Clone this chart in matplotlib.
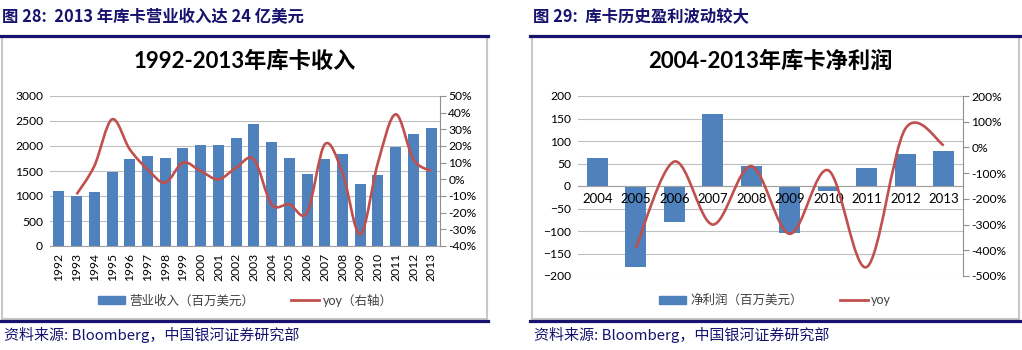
import numpy as np
import matplotlib
matplotlib.use('Agg')
import matplotlib.pyplot as plt
from matplotlib.path import Path
from matplotlib.patches import PathPatch, Rectangle, Patch
from matplotlib.lines import Line2D

plt.rcParams['font.family'] = ['Lato', 'Noto Sans CJK SC', 'DejaVu Sans']

# dati
anni1 = [str(a) for a in range(1992, 2014)]
ricavi = [1100, 1000, 1080, 1490, 1750, 1800, 1770, 1960, 2030, 2030, 2170,
          2440, 2090, 1770, 1450, 1750, 1850, 1240, 1430, 1990, 2230, 2350]
yoy1 = [None, -9, 8, 36, 18, 6, -2, 10, 5, 0, 7,
        12, -15, -15, -20, 21, 4, -33, 10, 39, 12, 5]

anni2 = [str(a) for a in range(2004, 2014)]
utile = [62, -181, -79, 161, 44, -104, -11, 41, 71, 78]
yoy2 = [None, -392, -55, -300, -73, -336, -89, -465, 72, 8]

titolo1 = '图 28:  2013 年库卡营业收入达 24 亿美元'
titolo2 = '图 29:  库卡历史盈利波动较大'
fonte = '资料来源: Bloomberg，中国银河证券研究部'

blu = '#4f81bd'
rosso = '#c0504d'
navy = '#16126e'
griglia = '#bfbfbf'
W, H = 1022, 350


def curva(x, y):
    # spline tipo excel (catmull-rom -> bezier)
    p = np.column_stack([x, y]).astype(float)
    verts = [p[0]]
    codes = [Path.MOVETO]
    n = len(p)
    for i in range(n - 1):
        p0 = p[i - 1] if i > 0 else p[i]
        p3 = p[i + 2] if i + 2 < n else p[i + 1]
        c1 = p[i] + (p[i + 1] - p0) / 6
        c2 = p[i + 1] - (p3 - p[i]) / 6
        verts += [c1, c2, p[i + 1]]
        codes += [Path.CURVE4] * 3
    return Path(verts, codes)


fig = plt.figure(figsize=(W / 100, H / 100), dpi=100)

# cornici
for x0, x1 in [(2, 487), (532, 1019)]:
    fig.patches.append(Rectangle((x0 / W, 1 - 319 / H), (x1 - x0) / W, 282 / H,
                                 transform=fig.transFigure, fill=False,
                                 edgecolor='#c8c8c8', lw=1.5))
    for yy in [36, 321]:
        fig.add_artist(Line2D([(x0 - 2) / W, (x1 + 1) / W], [1 - yy / H] * 2,
                              transform=fig.transFigure, color=navy, lw=2.3))

fig.text(2 / W, 1 - 17 / H, titolo1, fontsize=11.8, fontweight='bold', color=navy,
         family=['Noto Sans CJK SC'], va='center')
fig.text(533 / W, 1 - 17 / H, titolo2, fontsize=11.8, fontweight='bold', color=navy,
         family=['Noto Sans CJK SC'], va='center')
fig.text(4 / W, 1 - 335 / H, fonte, fontsize=10.8, style='italic', color=navy,
         family=['Noto Sans CJK SC'], va='center')
fig.text(534 / W, 1 - 335 / H, fonte, fontsize=10.8, style='italic', color=navy,
         family=['Noto Sans CJK SC'], va='center')

# ---- grafico 1
ax = fig.add_axes([50 / W, 1 - 246 / H, 390 / W, 150 / H])
xs = np.arange(len(anni1))
ax.bar(xs, ricavi, width=0.62, color=blu, zorder=2)
ax.set_xlim(-0.5, len(anni1) - 0.5)
ax.set_ylim(0, 3000)
ax.set_yticks(np.arange(0, 3001, 500))
ax.grid(axis='y', color=griglia, lw=0.8, zorder=0)
ax.set_xticks(xs)
ax.set_xticklabels(anni1, rotation=90, fontsize=8.7)
ax.tick_params(axis='x', length=0, pad=5)
ax.tick_params(axis='y', length=0, labelsize=8.7, pad=5)
for s in ['top', 'left', 'right']:
    ax.spines[s].set_visible(False)
ax.spines['bottom'].set_color('#a0a0a0')
ax2 = ax.twinx()
ax2.set_ylim(-40, 50)
ax2.set_yticks(np.arange(-40, 51, 10))
ax2.set_yticklabels([f'{v}%' for v in range(-40, 51, 10)])
ax2.tick_params(axis='y', labelsize=8.7, length=4, color='#909090', pad=2)
for s in ['top', 'left', 'bottom']:
    ax2.spines[s].set_visible(False)
ax2.spines['right'].set_color('#909090')
xx = [i for i, v in enumerate(yoy1) if v is not None]
yy = [v for v in yoy1 if v is not None]
ax2.add_patch(PathPatch(curva(xx, yy), fill=False, edgecolor=rosso, lw=1.9, zorder=3))
ax.set_title('1992-2013年库卡收入', fontsize=16, fontweight='bold', pad=20)
fig.legend(handles=[Patch(color=blu, label='营业收入（百万美元）'),
                    Line2D([], [], color=rosso, lw=2, label='yoy（右轴）')],
           loc='center', bbox_to_anchor=(245 / W, 1 - 300 / H), ncol=2, frameon=False,
           fontsize=9, handlelength=2.2, handleheight=0.6, columnspacing=3.0,
           handletextpad=0.3, labelcolor='#404040')

# ---- grafico 2
bx = fig.add_axes([578 / W, 1 - 276 / H, 385 / W, 180 / H])
xs2 = np.arange(len(anni2))
bx.bar(xs2, utile, width=0.55, color=blu, zorder=2)
bx.set_xlim(-0.5, len(anni2) - 0.5)
bx.set_ylim(-200, 200)
bx.set_yticks(np.arange(-200, 201, 50))
bx.grid(axis='y', color=griglia, lw=0.8, zorder=0)
bx.set_xticks(xs2)
bx.set_xticklabels([])
for i, a in enumerate(anni2):
    bx.annotate(a, (i, 0), xytext=(0, -5), textcoords='offset points',
                ha='center', va='top', fontsize=9.5, zorder=5)
bx.spines['bottom'].set_position(('data', 0))
bx.spines['bottom'].set_color('#a0a0a0')
bx.tick_params(axis='x', length=0)
bx.tick_params(axis='y', length=0, labelsize=8.7, pad=5)
for s in ['top', 'left', 'right']:
    bx.spines[s].set_visible(False)
bx2 = bx.twinx()
bx2.set_ylim(-500, 200)
bx2.set_yticks(np.arange(-500, 201, 100))
bx2.set_yticklabels([f'{v}%' for v in range(-500, 201, 100)])
bx2.tick_params(axis='y', labelsize=8.7, length=4, color='#909090', pad=2)
for s in ['top', 'left', 'bottom']:
    bx2.spines[s].set_visible(False)
bx2.spines['right'].set_color('#909090')
xx = [i for i, v in enumerate(yoy2) if v is not None]
yy = [v for v in yoy2 if v is not None]
bx2.add_patch(PathPatch(curva(xx, yy), fill=False, edgecolor=rosso, lw=1.9, zorder=3))
bx.set_title('2004-2013年库卡净利润', fontsize=16, fontweight='bold', pad=20)
fig.legend(handles=[Patch(color=blu, label='净利润（百万美元）'),
                    Line2D([], [], color=rosso, lw=2, label='yoy')],
           loc='center', bbox_to_anchor=(775 / W, 1 - 300 / H), ncol=2, frameon=False,
           fontsize=9, handlelength=2.2, handleheight=0.6, columnspacing=3.0,
           handletextpad=0.3, labelcolor='#404040')

fig.savefig('out.png', dpi=100)
